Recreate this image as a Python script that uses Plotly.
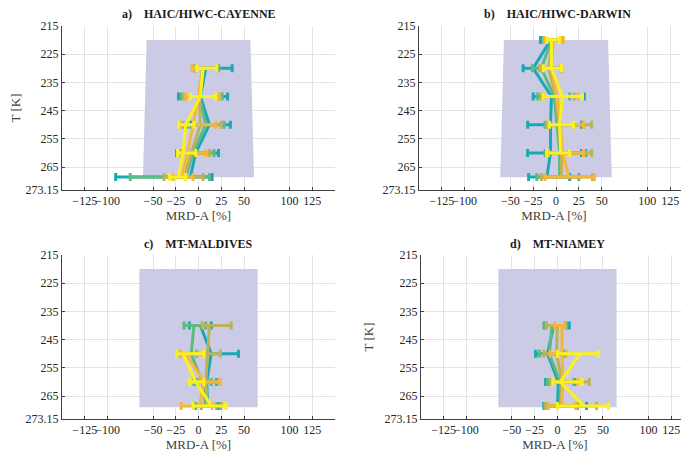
import plotly.graph_objects as go

# ---------------- data ----------------
COLORS = ["#19A9B4", "#5DBA80", "#BAB35C", "#F6B63C", "#FAF21E"]
SERIES = ["s1", "s2", "s3", "s4", "s5"]

X_TICKS = [-125, -100, -50, -25, 0, 25, 50, 100, 125]
Y_TICKS = [215, 225, 235, 245, 255, 265, 273.15]
Y_TICK_TEXT = ["215", "225", "235", "245", "255", "265", "273.15"]

TITLES = ["a)&nbsp;&nbsp;&nbsp;&nbsp;HAIC/HIWC-CAYENNE",
          "b)&nbsp;&nbsp;&nbsp;&nbsp;HAIC/HIWC-DARWIN",
          "c)&nbsp;&nbsp;&nbsp;&nbsp;MT-MALDIVES",
          "d)&nbsp;&nbsp;&nbsp;&nbsp;MT-NIAMEY"]

# uncertainty envelope (trapezoid for a,b ; rectangle for c,d)
SHADE_AB_X = [-57, 57, 61, -61]
SHADE_AB_T = [220, 220, 268.6, 268.6]
SHADE_CD_X = [-65, 65, 65, -65]
SHADE_CD_T = [220, 220, 269, 269]

# panel a
A_T = [230, 240, 250, 260, 268.5]
A_MEAN = [[8, 2, 12, -3, -9],
          [6, 1, 8, -6, -14],
          [5, 1, 2, -8, -16],
          [4, 0, -6, -12, -18],
          [5, 2, -14, -17, -22]]
A_LO = [[-3, -22, -8, -24, -91],
        [-4, -19, -12, -20, -75],
        [-5, -16, -17, -21, -38],
        [-7, -14, -21, -22, -28],
        [-2, -9, -22, -23, -32]]
A_HI = [[37, 32, 35, 22, 15],
        [22, 26, 28, 17, 12],
        [20, 24, 25, 12, 5],
        [20, 22, 19, 8, -6],
        [20, 19, -5, -3, -14]]

# panel b
B_T = [220, 230, 240, 250, 260, 268.5]
B_MEAN = [[-6, -25, -5, -6, -6, -10],
          [-5, -16, -2, 1, 4, 4],
          [-4, -8, 0, 3, 6, 6],
          [-3, -5, 1, 5, 7, 14],
          [-5, -5, 7, 4, 5, None]]
B_LO = [[-17, -36, -25, -31, -31, -30],
        [-14, -26, -20, -12, -12, -21],
        [-13, -18, -16, -10, -10, -16],
        [-12, -14, -13, -8, -8, -12],
        [-10, -14, -14, -7, -10, None]]
B_HI = [[5, 6, 31, 28, 28, 15],
        [5, 6, 15, 30, 33, 25],
        [6, 6, 20, 39, 39, 40],
        [8, 6, 24, 30, 30, 42],
        [4, 6, 29, 19, 15, None]]

# panel c
C_T = [240, 250, 260, 268.5]
C_MEAN = [[2, 14, 9, 10],
          [-5, -8, 4, 8],
          [12, 10, 8, 10],
          [None, -14, 6, 1],
          [None, -17, -3, 14]]
C_LO = [[-10, -2, -2, -5],
        [-16, -20, -5, -3],
        [4, -2, 0, 3],
        [None, -20, -10, -19],
        [None, -24, -10, -6]]
C_HI = [[14, 44, 20, 22],
        [8, 10, 14, 20],
        [36, 24, 22, 25],
        [None, 6, 24, 15],
        [None, 6, 6, 30]]

# panel d
D_T = [240, 250, 260, 268.5]
D_MEAN = [[-4, -11, 1, 0],
          [-6, -9, 3, 3],
          [0, -1, 5, 4],
          [5, 5, 6, 5],
          [None, 25, 3, 29]]
D_LO = [[-13, -24, -13, -15],
        [-15, -20, -11, -14],
        [-12, -15, -8, -13],
        [-3, -8, -5, -10],
        [None, 0, -5, 0]]
D_HI = [[13, 8, 20, 32],
        [10, 6, 18, 22],
        [8, 6, 35, 43],
        [8, 10, 22, 20],
        [None, 45, 27, 56]]

# ---------------- figure ----------------
PAGE_OFF = 8            # default body margin of the html page
W, H = 689 - PAGE_OFF, 456 - PAGE_OFF
FONT = "Liberation Serif, Times New Roman, serif"
AX_COL = "#404040"

fig = go.Figure()

panels = [
    ("x", "y", A_T, A_MEAN, A_LO, A_HI, SHADE_AB_X, SHADE_AB_T),
    ("x2", "y2", B_T, B_MEAN, B_LO, B_HI, SHADE_AB_X, SHADE_AB_T),
    ("x3", "y3", C_T, C_MEAN, C_LO, C_HI, SHADE_CD_X, SHADE_CD_T),
    ("x4", "y4", D_T, D_MEAN, D_LO, D_HI, SHADE_CD_X, SHADE_CD_T),
]

for xa, ya, T, MEAN, LO, HI, sx, st in panels:
    fig.add_trace(go.Scatter(x=sx, y=st, xaxis=xa, yaxis=ya, mode="lines",
                             fill="toself", fillcolor="#CBCBE5",
                             line=dict(width=0, color="#CBCBE5"),
                             hoverinfo="skip", showlegend=False))
    for k in range(len(SERIES)):
        m = MEAN[k]
        plus = [None if v is None else h - v for v, h in zip(m, HI[k])]
        minus = [None if v is None else v - l for v, l in zip(m, LO[k])]
        fig.add_trace(go.Scatter(
            x=m, y=T, xaxis=xa, yaxis=ya, mode="lines", name=SERIES[k],
            line=dict(color=COLORS[k], width=3),
            error_x=dict(type="data", symmetric=False, array=plus, arrayminus=minus,
                         color=COLORS[k], thickness=3, width=4),
            showlegend=False))

def xpix(p):
    return min(1.0, max(0.0, (p - PAGE_OFF) / W))

def ypix(p):
    return min(1.0, max(0.0, 1 - (p - PAGE_OFF) / H))

xcommon = dict(range=[-150, 150], tickvals=X_TICKS, tickangle=0, showgrid=True,
               gridcolor="#E3E3E3", gridwidth=1, showline=True, linecolor=AX_COL,
               linewidth=1, zeroline=False, ticks="inside", ticklen=3, tickcolor=AX_COL,
               automargin=False,
               tickfont=dict(family=FONT, size=12, color="#262626"),
               title=dict(text="MRD-A [%]", font=dict(family=FONT, size=13, color="#404040"),
                          standoff=2))
ycommon = dict(range=[273.15, 215], tickvals=Y_TICKS, ticktext=Y_TICK_TEXT, showgrid=True,
               gridcolor="#E3E3E3", gridwidth=1, showline=True, linecolor=AX_COL, linewidth=1,
               zeroline=False, ticks="inside", ticklen=3, tickcolor=AX_COL, automargin=False,
               tickfont=dict(family=FONT, size=12, color="#262626"))

ytitle = dict(text="T [K]", font=dict(family=FONT, size=13, color="#404040"), standoff=8)

fig.update_layout(
    width=W, height=H, margin=dict(l=0, r=0, t=0, b=0, autoexpand=False),
    paper_bgcolor="white", plot_bgcolor="white",
    xaxis=dict(xcommon, domain=[xpix(62), xpix(335)], anchor="y"),
    yaxis=dict(ycommon, domain=[ypix(190), ypix(26)], anchor="x", title=ytitle),
    xaxis2=dict(xcommon, domain=[xpix(419), xpix(689)], anchor="y2", range=[-150, 145.6]),
    yaxis2=dict(ycommon, domain=[ypix(190), ypix(26)], anchor="x2"),
    xaxis3=dict(xcommon, domain=[xpix(62), xpix(335)], anchor="y3"),
    yaxis3=dict(ycommon, domain=[ypix(419), ypix(255)], anchor="x3"),
    xaxis4=dict(xcommon, domain=[xpix(421), xpix(689)], anchor="y4", range=[-150, 144.6]),
    yaxis4=dict(ycommon, domain=[ypix(419), ypix(255)], anchor="x4", title=ytitle),
)

title_pos = [(198.5, 14), (557, 14), (198.5, 244), (557, 244)]
for txt, (px, py) in zip(TITLES, title_pos):
    fig.add_annotation(text="<b>" + txt + "</b>", x=xpix(px), y=ypix(py), xref="paper",
                       yref="paper", showarrow=False, xanchor="center", yanchor="middle",
                       font=dict(family=FONT, size=12, color="#1a1a1a"))

fig.write_html("out.html")
